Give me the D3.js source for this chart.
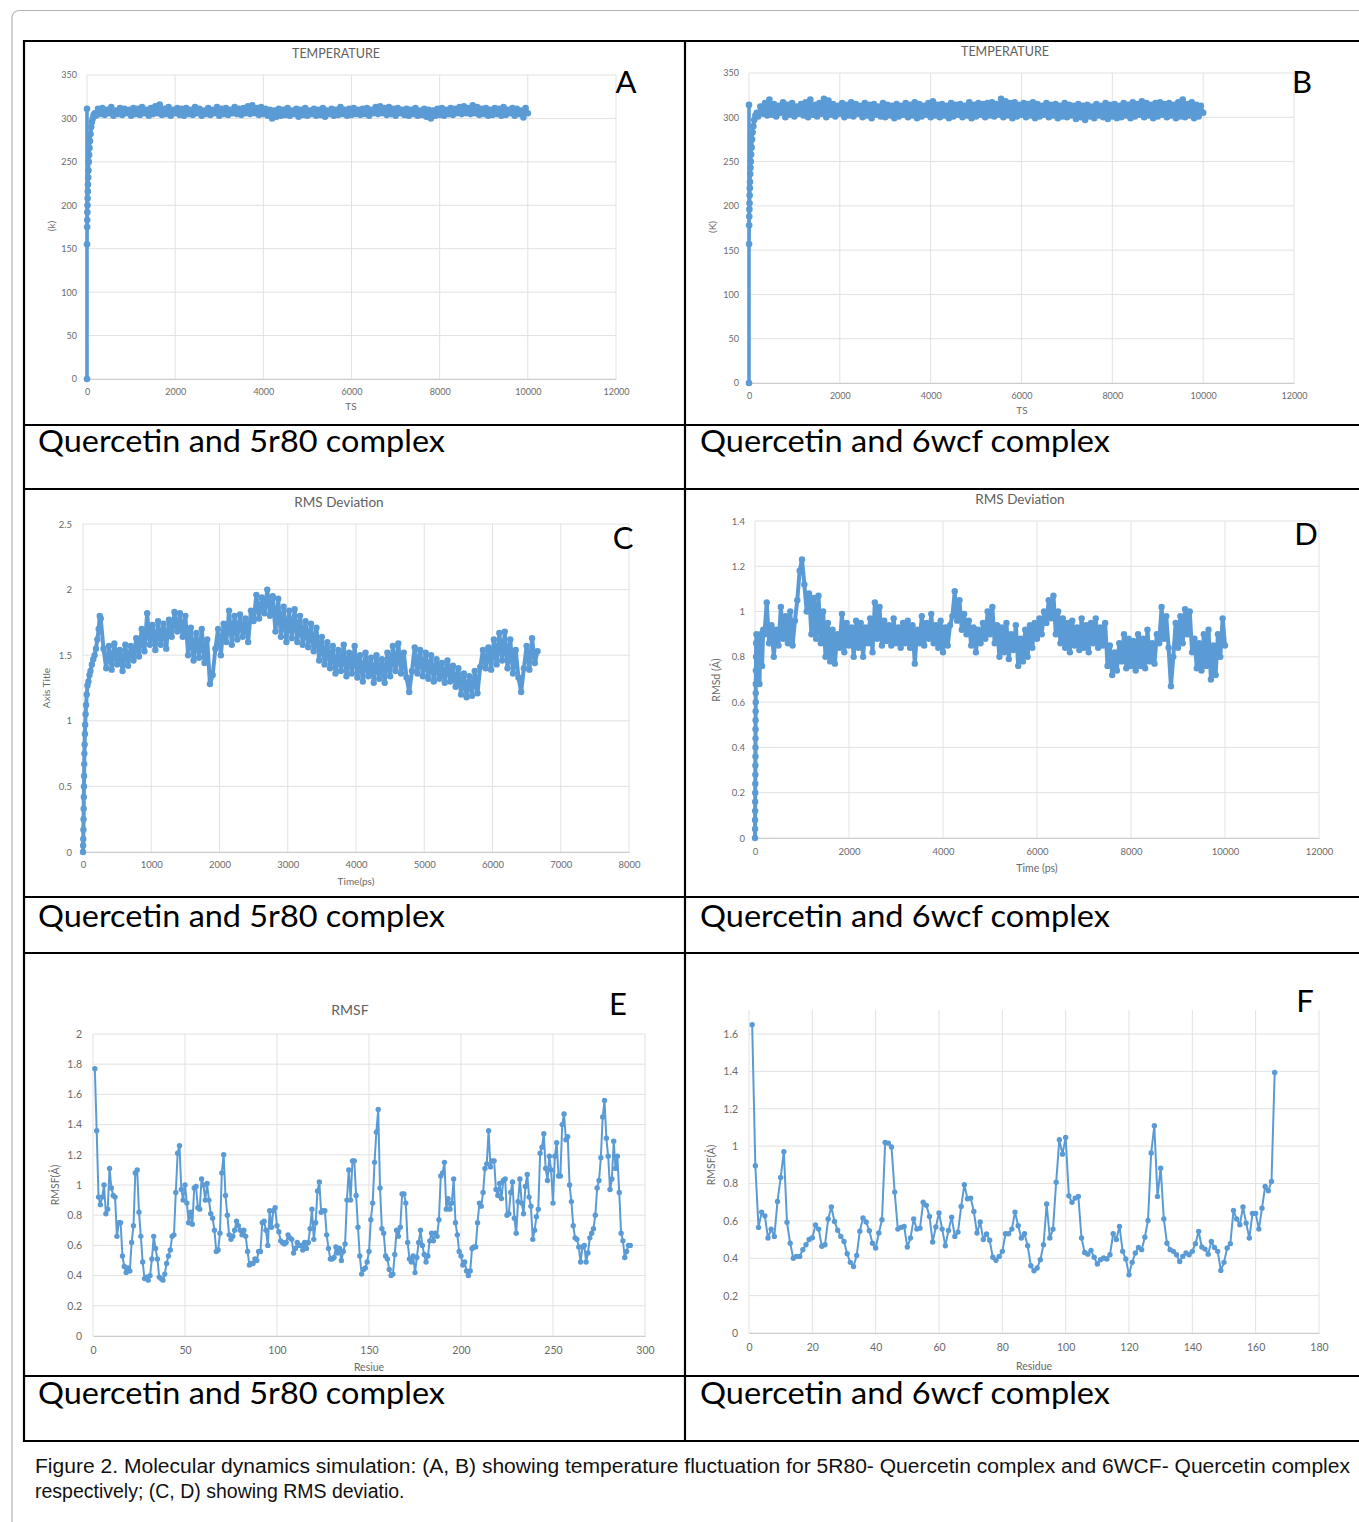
<!DOCTYPE html>
<html><head><meta charset="utf-8">
<script src="https://cdn.jsdelivr.net/npm/d3@7"></script>
<style>body{margin:0;background:#fff;} svg{display:block;}</style>
</head><body>
<svg id="fig" width="1359" height="1522"></svg>
<script>
// ---------------- DATA ----------------
// Panel A: temperature, 5r80 complex
const tempA_rampTime = [0,0,1,3,5,8,11,14,18,22,27,33,40,48,57,67,80,95,112,130,150,175];
const tempA_rampK    = [0,311,155,175,183,192,200,208,216,224,232,240,250,258,266,274,282,290,296,300,304,306];
const tempA_start = 200, tempA_step = 50;
const tempA_K = [
303,311,305,312,304,310,306,313,303,309,305,312,304,311,306,310,303,312,305,311,
304,313,306,310,303,312,305,314,306,316,304,311,305,313,303,310,306,312,304,311,
303,312,305,310,304,313,306,311,303,309,305,312,304,310,306,313,303,311,305,312,
304,310,306,313,305,311,304,312,306,314,305,315,306,312,304,313,305,311,303,310,
300,309,302,311,303,310,304,312,303,309,305,311,302,310,304,312,303,309,305,311,
303,310,304,312,302,309,305,311,303,310,304,313,305,310,303,311,304,312,305,310,
304,311,305,312,303,310,306,313,305,314,306,312,304,313,305,311,303,312,306,310,
304,311,303,310,305,312,303,309,304,311,302,310,300,309,303,311,304,312,303,310,
305,312,304,311,306,313,305,314,306,312,305,315,306,313,304,311,305,312,303,310,
304,312,305,311,303,313,304,310,306,312,303,311,305,309,301,312,306];

// Panel B: temperature, 6wcf complex
const tempB_rampTime = [0,0,2,4,6,9,12,15,18,22,27,33,40,48,57,67,80,95,115,140,170];
const tempB_rampK    = [0,314,157,178,188,196,203,212,220,227,236,243,250,258,266,275,283,290,297,302,305];
const tempB_start = 200, tempB_step = 50;
const tempB_K = [
301,312,304,316,302,320,303,315,301,313,305,317,300,314,303,316,301,312,304,315,
302,317,300,320,303,314,301,316,304,321,300,319,303,315,301,313,304,316,300,314,
302,317,301,315,304,313,300,316,302,314,299,315,303,312,301,316,300,314,302,313,
299,315,301,313,303,316,300,314,302,317,299,315,301,313,303,316,300,318,302,314,
300,315,302,313,299,316,301,314,303,315,300,313,302,317,299,314,301,316,303,315,
300,316,302,317,301,315,303,321,300,318,302,316,299,317,301,314,303,316,300,315,
302,317,299,315,301,313,303,316,300,314,302,315,299,313,301,316,300,314,302,313,
298,315,300,313,297,314,301,312,299,315,302,313,300,316,298,314,301,315,299,313,
300,316,302,314,299,317,301,315,303,318,300,316,302,314,299,316,301,317,303,315,
300,316,302,314,299,317,301,320,300,315,302,317,299,314,301,313,305];

// Panel C: RMSD, 5r80 complex
const rmsdC_rampTime = [0,2,4,6,8,10,12,14,16,18,20,24,28,32,38,45,55,65,80,95,110,130,150,170,190,210,230,245];
const rmsdC_ramp     = [0,0.05,0.1,0.17,0.25,0.33,0.42,0.5,0.58,0.67,0.75,0.82,0.9,0.97,1.05,1.12,1.2,1.27,1.3,1.35,1.38,1.43,1.47,1.5,1.55,1.62,1.7,1.8];
const rmsdC_start = 260, rmsdC_step = 40;
const rmsdC = [
1.78,1.55,1.4,1.57,1.39,1.59,1.43,1.54,1.38,1.58,1.42,1.57,1.46,1.63,1.49,1.7,1.53,1.82,1.58,1.73,1.54,1.76,1.58,1.74,1.55,
1.77,1.64,1.83,1.68,1.82,1.64,1.8,1.5,1.71,1.46,1.67,1.48,1.7,1.44,1.62,1.28,1.35,1.55,1.7,1.5,1.74,1.6,1.84,1.58,1.8,
1.62,1.81,1.64,1.78,1.6,1.84,1.76,1.96,1.78,1.94,1.82,2.0,1.8,1.95,1.68,1.93,1.64,1.87,1.6,1.84,1.63,1.85,1.6,1.8,1.58,
1.76,1.56,1.74,1.53,1.71,1.46,1.64,1.43,1.6,1.4,1.57,1.36,1.54,1.38,1.58,1.34,1.52,1.36,1.57,1.33,1.5,1.3,1.52,1.34,1.48,
1.29,1.5,1.32,1.47,1.29,1.52,1.34,1.57,1.38,1.59,1.36,1.52,1.33,1.22,1.38,1.56,1.36,1.54,1.34,1.52,1.32,1.5,1.3,1.47,1.32,
1.44,1.29,1.46,1.3,1.42,1.26,1.4,1.2,1.36,1.18,1.34,1.19,1.38,1.21,1.41,1.54,1.4,1.56,1.39,1.62,1.43,1.67,1.46,1.68,1.4,
1.62,1.36,1.54,1.33,1.22,1.4,1.57,1.39,1.63,1.44,1.53];

// Panel D: RMSD, 6wcf complex
const rmsdD_rampTime = [0,1,2,3,4,5,6,7,8,9,10,11,12,13,14,15,16,17,19,21,24,30,45,70,95,120,150,175];
const rmsdD_ramp     = [0,0.04,0.08,0.12,0.16,0.2,0.24,0.28,0.32,0.36,0.4,0.44,0.48,0.52,0.56,0.6,0.64,0.68,0.74,0.8,0.86,0.9,0.7,0.88,0.68,0.9,0.76,0.92];
const rmsdD_start = 200, rmsdD_step = 50;
const rmsdD = [
0.9,1.04,0.86,0.94,0.8,0.92,0.85,1.02,0.88,0.98,0.86,1.0,0.85,0.96,1.05,1.18,1.23,1.12,1.0,1.08,
0.9,1.06,0.88,1.07,0.86,1.0,0.8,0.95,0.78,0.92,0.77,0.9,0.84,0.99,0.82,0.95,0.85,0.93,0.8,0.96,
0.84,0.95,0.8,0.93,0.86,0.97,0.82,1.04,0.88,1.02,0.85,0.96,0.87,0.94,0.85,0.97,0.86,0.93,0.84,0.95,
0.86,0.96,0.84,0.94,0.77,0.92,0.86,0.98,0.85,0.95,0.88,0.99,0.86,0.94,0.84,0.96,0.82,0.93,0.85,0.94,
0.98,1.09,0.96,1.05,0.92,0.99,0.9,0.96,0.85,0.93,0.82,0.92,0.86,0.95,0.88,1.0,0.9,1.02,0.86,0.94,
0.8,0.93,0.82,0.95,0.79,0.9,0.83,0.94,0.76,0.88,0.78,0.92,0.8,0.94,0.84,0.95,0.88,0.97,0.9,1.0,
0.95,1.05,0.97,1.07,0.9,1.0,0.86,0.97,0.84,0.95,0.82,0.96,0.85,0.93,0.83,0.97,0.84,0.94,0.82,0.95,
0.86,0.97,0.84,0.93,0.85,0.95,0.76,0.85,0.72,0.82,0.74,0.86,0.78,0.9,0.75,0.88,0.76,0.87,0.74,0.9,
0.76,0.88,0.75,0.92,0.78,0.86,0.77,0.9,0.86,1.02,0.88,0.98,0.84,0.67,0.8,0.95,0.84,0.98,0.86,1.01,
0.9,1.0,0.82,0.88,0.75,0.86,0.74,0.9,0.76,0.92,0.7,0.85,0.72,0.9,0.8,0.97,0.85];

// Panel E: RMSF per residue, 5r80 complex (residues 1..n)
const rmsfE = [
1.77,1.36,0.92,0.87,0.92,1.0,0.81,0.84,1.11,0.98,
0.93,0.92,0.66,0.75,0.75,0.53,0.46,0.42,0.45,0.43,
0.62,0.73,1.08,1.1,0.82,0.66,0.49,0.38,0.39,0.37,
0.4,0.51,0.66,0.58,0.51,0.39,0.38,0.37,0.41,0.48,
0.53,0.57,0.66,0.67,0.95,1.21,1.26,0.97,0.9,1.0,
0.88,0.75,0.82,0.74,0.98,0.99,0.85,0.84,1.04,1.0,
0.9,1.01,0.9,0.81,0.78,0.7,0.56,0.57,0.68,1.08,
1.2,0.93,0.8,0.67,0.64,0.66,0.7,0.76,0.73,0.7,
0.67,0.7,0.66,0.56,0.47,0.48,0.48,0.51,0.5,0.56,
0.56,0.75,0.76,0.7,0.6,0.83,0.72,0.83,0.85,0.73,
0.69,0.63,0.62,0.61,0.62,0.67,0.65,0.64,0.55,0.58,
0.62,0.6,0.6,0.57,0.62,0.58,0.62,0.71,0.84,0.64,
0.75,0.96,1.02,0.82,0.83,0.83,0.67,0.58,0.51,0.51,
0.52,0.59,0.55,0.58,0.5,0.56,0.61,0.9,1.1,0.9,
1.16,1.16,0.93,0.72,0.53,0.41,0.44,0.45,0.49,0.56,
0.77,0.88,1.15,1.35,1.5,
0.98,0.71,0.68,0.53,0.51,0.44,0.4,0.41,0.54,0.7,
0.66,0.72,0.94,0.94,0.88,0.62,0.51,0.49,0.53,0.42,
0.52,0.62,0.7,0.6,0.54,0.49,0.53,0.63,0.68,0.63,
0.68,0.66,0.77,1.06,1.08,1.15,0.84,0.91,0.84,0.88,
1.04,0.75,0.67,0.56,0.53,0.47,0.49,0.43,0.4,0.43,
0.58,0.59,0.59,0.75,0.88,0.86,0.95,1.11,1.14,1.36,
1.12,1.16,1.16,0.97,0.93,1.01,0.91,1.03,1.04,0.8,
0.81,0.95,1.02,0.78,0.68,0.89,1.04,0.88,0.81,0.99,
1.07,0.92,0.86,0.64,0.7,0.79,0.84,1.21,1.25,1.34,
1.11,1.03,1.19,1.1,0.88,1.19,1.28,1.06,1.06,1.4,
1.47,1.3,1.32,1.0,0.89,0.73,0.65,0.64,0.59,0.49,
0.59,0.6,0.49,0.55,0.65,0.68,0.71,0.8,0.98,1.03,
1.18,1.45,1.56,1.31,1.19,0.97,1.04,1.29,1.11,1.19,
0.95,0.68,0.63,0.52,0.56,0.6,0.6];

// Panel F: RMSF per residue, 6wcf complex (residues 1..n)
const rmsfF = [
1.65,0.895,0.565,0.647,0.627,0.508,0.556,0.517,0.704,0.832,
0.97,0.592,0.48,0.40,0.41,0.41,0.446,0.472,0.5,0.51,
0.578,0.556,0.464,0.472,0.61,0.674,0.597,0.55,0.517,0.49,
0.424,0.378,0.356,0.415,0.545,0.615,0.594,0.547,0.48,0.455,
0.535,0.606,1.02,1.016,0.995,0.754,0.556,0.565,0.57,0.46,
0.508,0.61,0.556,0.561,0.7,0.683,0.624,0.487,0.567,0.642,
0.556,0.467,0.549,0.62,0.517,0.54,0.677,0.793,0.718,0.722,
0.65,0.535,0.594,0.5,0.53,0.496,0.405,0.389,0.41,0.437,
0.531,0.531,0.556,0.647,0.574,0.508,0.531,0.467,0.36,0.333,
0.348,0.392,0.472,0.69,0.508,0.556,0.807,1.034,0.957,1.046,
0.734,0.699,0.722,0.731,0.508,0.431,0.422,0.442,0.405,0.369,
0.392,0.401,0.396,0.419,0.531,0.5,0.57,0.437,0.396,0.312,
0.378,0.428,0.458,0.446,0.513,0.602,0.963,1.109,0.731,0.882,
0.61,0.48,0.446,0.437,0.419,0.383,0.41,0.428,0.419,0.437,
0.478,0.544,0.46,0.449,0.422,0.49,0.458,0.437,0.335,0.378,
0.455,0.478,0.656,0.61,0.579,0.674,0.588,0.508,0.64,0.64,
0.556,0.668,0.784,0.761,0.811,1.394];

// Tick labels
const ticksTempX = [0,2000,4000,6000,8000,10000,12000];
const ticksTempY = [0,50,100,150,200,250,300,350];
const ticksCX = [0,1000,2000,3000,4000,5000,6000,7000,8000];
const ticksCY = [0,0.5,1,1.5,2,2.5];
const ticksDX = [0,2000,4000,6000,8000,10000,12000];
const ticksDY = [0,0.2,0.4,0.6,0.8,1,1.2,1.4];
const ticksEX = [0,50,100,150,200,250,300];
const ticksEY = [0,0.2,0.4,0.6,0.8,1,1.2,1.4,1.6,1.8,2];
const ticksFX = [0,20,40,60,80,100,120,140,160,180];
const ticksFY = [0,0.2,0.4,0.6,0.8,1,1.2,1.4,1.6];

// Texts
const captionLeft = "Quercetin and 5r80 complex";
const captionRight = "Quercetin and 6wcf complex";
const figCaption1 = "Figure 2. Molecular dynamics simulation: (A, B) showing temperature fluctuation for 5R80- Quercetin complex and 6WCF- Quercetin complex";
const figCaption2 = "respectively; (C, D) showing RMS deviatio.";

// ---------------- BUILD ----------------
function series(rampT, rampV, start, step, vals){
  const pts = rampT.map((t,i)=>[t, rampV[i]]);
  vals.forEach((v,i)=>pts.push([start + i*step, v]));
  return pts;
}
function residues(vals){ return vals.map((v,i)=>[i+1, v]); }

const BLUE = "#5b9bd5";
const FONT = "Lato, 'Open Sans', sans-serif";
const svg = d3.select("#fig");
svg.append("rect").attr("width",1359).attr("height",1522).attr("fill","#fff");

// outer gray frame
svg.append("rect").attr("x",12).attr("y",10.5).attr("width",1420).attr("height",1600).attr("rx",7)
  .attr("fill","none").attr("stroke","#b5b5b5").attr("stroke-width",1.2);

function drawChart(c){
  const g = svg.append("g");
  const x = d3.scaleLinear().domain([0,c.xMax]).range([c.left,c.right]);
  const y = d3.scaleLinear().domain([0,c.yMax]).range([c.bottom,c.top]);
  g.append("g").selectAll("line").data(c.xTicks).join("line")
    .attr("x1",d=>x(d)).attr("x2",d=>x(d)).attr("y1",c.top).attr("y2",c.bottom)
    .attr("stroke","#e2e2e2").attr("stroke-width",1);
  g.append("g").selectAll("line").data(c.yTicks).join("line")
    .attr("x1",c.left).attr("x2",c.right).attr("y1",d=>y(d)).attr("y2",d=>y(d))
    .attr("stroke","#e2e2e2").attr("stroke-width",1);
  const ax = g.append("g").attr("transform",`translate(0,${c.bottom})`)
    .call(d3.axisBottom(x).tickValues(c.xTicks).tickSize(0).tickPadding(c.xPad).tickFormat(d=>String(d)));
  ax.select(".domain").attr("stroke","#cdcdcd");
  ax.selectAll("text").attr("fill","#6a6a6a").style("font-family",FONT).style("font-size",c.fs+"px");
  const ay = g.append("g").attr("transform",`translate(${c.left},0)`)
    .call(d3.axisLeft(y).tickValues(c.yTicks).tickSize(0).tickPadding(c.yPad).tickFormat(d=>String(d)));
  ay.select(".domain").remove();
  ay.selectAll("text").attr("fill","#6a6a6a").style("font-family",FONT).style("font-size",c.fs+"px");

  const line = d3.line().x(d=>x(d[0])).y(d=>y(d[1]));
  g.append("path").datum(c.data).attr("d",line).attr("fill","none")
    .attr("stroke",BLUE).attr("stroke-width",c.lw).attr("stroke-linejoin","round");
  g.append("g").selectAll("circle").data(c.data).join("circle")
    .attr("cx",d=>x(d[0])).attr("cy",d=>y(d[1])).attr("r",c.r).attr("fill",BLUE);

  if (c.title) g.append("text").attr("x",c.title[1]).attr("y",c.title[2]).attr("text-anchor","middle")
    .attr("fill","#606060").style("font-family",FONT).style("font-size",c.titleFs+"px").text(c.title[0]);
  g.append("text").attr("x",c.xTitle[1]).attr("y",c.xTitle[2]).attr("text-anchor","middle")
    .attr("fill","#6a6a6a").style("font-family",FONT).style("font-size",c.axFs+"px").text(c.xTitle[0]);
  g.append("text").attr("transform",`translate(${c.yTitle[1]},${c.yTitle[2]}) rotate(-90)`)
    .attr("text-anchor","middle").attr("dominant-baseline","middle")
    .attr("fill","#6a6a6a").style("font-family",FONT).style("font-size",c.axFs+"px").text(c.yTitle[0]);
  g.append("text").attr("x",c.letter[1]).attr("y",c.letter[2]).attr("text-anchor","middle")
    .attr("fill","#000").style("font-family",FONT).style("font-size","31px").text(c.letter[0]);
}

drawChart({left:87,right:616,top:75,bottom:379,xMax:12000,yMax:350,xTicks:ticksTempX,yTicks:ticksTempY,
  fs:9,xPad:10,yPad:10,lw:3.6,r:3.3,data:series(tempA_rampTime,tempA_rampK,tempA_start,tempA_step,tempA_K),
  title:["TEMPERATURE",336,58],titleFs:12.5,axFs:10,xTitle:["TS",351,410],yTitle:["(k)",52,226],letter:["A",626,93]});
drawChart({left:749,right:1294,top:73,bottom:383,xMax:12000,yMax:350,xTicks:ticksTempX,yTicks:ticksTempY,
  fs:9,xPad:10,yPad:10,lw:3.6,r:3.3,data:series(tempB_rampTime,tempB_rampK,tempB_start,tempB_step,tempB_K),
  title:["TEMPERATURE",1005,56],titleFs:12.5,axFs:10,xTitle:["TS",1022,414],yTitle:["(K)",713,227],letter:["B",1302,93]});
drawChart({left:83,right:629,top:524,bottom:852,xMax:8000,yMax:2.5,xTicks:ticksCX,yTicks:ticksCY,
  fs:9.5,xPad:9.5,yPad:11,lw:4,r:3.2,data:series(rmsdC_rampTime,rmsdC_ramp,rmsdC_start,rmsdC_step,rmsdC),
  title:["RMS Deviation",339,507],titleFs:13.5,axFs:10,xTitle:["Time(ps)",356,885],yTitle:["Axis Title",47,688],letter:["C",623,549]});
drawChart({left:755,right:1319,top:521,bottom:838,xMax:12000,yMax:1.4,xTicks:ticksDX,yTicks:ticksDY,
  fs:9.5,xPad:10.5,yPad:10,lw:4,r:3.2,data:series(rmsdD_rampTime,rmsdD_ramp,rmsdD_start,rmsdD_step,rmsdD),
  title:["RMS Deviation",1020,504],titleFs:13.5,axFs:10.5,xTitle:["Time (ps)",1037,872],yTitle:["RMSd (Å)",717,680],letter:["D",1306,545]});
drawChart({left:93,right:645,top:1034,bottom:1336,xMax:300,yMax:2,xTicks:ticksEX,yTicks:ticksEY,
  fs:10.5,xPad:11,yPad:11,lw:2,r:2.7,data:residues(rmsfE),
  title:["RMSF",350,1015],titleFs:14,axFs:10.5,xTitle:["Resiue",369,1371],yTitle:["RMSF(Å)",56,1185],letter:["E",618,1015]});
drawChart({left:749,right:1319,top:1010,bottom:1333,xMax:180,yMax:1.6*323/299,xTicks:ticksFX,yTicks:ticksFY,
  fs:10.5,xPad:11,yPad:11,lw:2,r:2.7,data:residues(rmsfF),
  title:null,axFs:10.5,xTitle:["Residue",1034,1370],yTitle:["RMSF(Å)",712,1165],letter:["F",1305,1012]});

// table borders
const tb = svg.append("g").attr("stroke","#000").attr("stroke-width",2.2);
[24,685].forEach(xv=>tb.append("line").attr("x1",xv).attr("x2",xv).attr("y1",40).attr("y2",1442));
[41,425,489,897,953,1376,1441].forEach(yv=>tb.append("line").attr("x1",23).attr("x2",1370).attr("y1",yv).attr("y2",yv));

// cell captions
[[452],[927],[1404]].forEach(([by])=>{
  svg.append("text").attr("x",38).attr("y",by).attr("textLength",407).attr("lengthAdjust","spacingAndGlyphs")
    .style("font-family",FONT).style("font-size","31px").attr("fill","#000").text(captionLeft);
  svg.append("text").attr("x",700).attr("y",by).attr("textLength",410).attr("lengthAdjust","spacingAndGlyphs")
    .style("font-family",FONT).style("font-size","31px").attr("fill","#000").text(captionRight);
});

// figure caption
svg.append("text").attr("x",35).attr("y",1473).attr("textLength",1315).attr("lengthAdjust","spacingAndGlyphs")
  .style("font-family","'Liberation Sans', Arial, sans-serif").style("font-size","19.5px").attr("fill","#111").text(figCaption1);
svg.append("text").attr("x",35).attr("y",1498)
  .style("font-family","'Liberation Sans', Arial, sans-serif").style("font-size","19.5px").attr("fill","#111").text(figCaption2);
</script>
</body></html>
